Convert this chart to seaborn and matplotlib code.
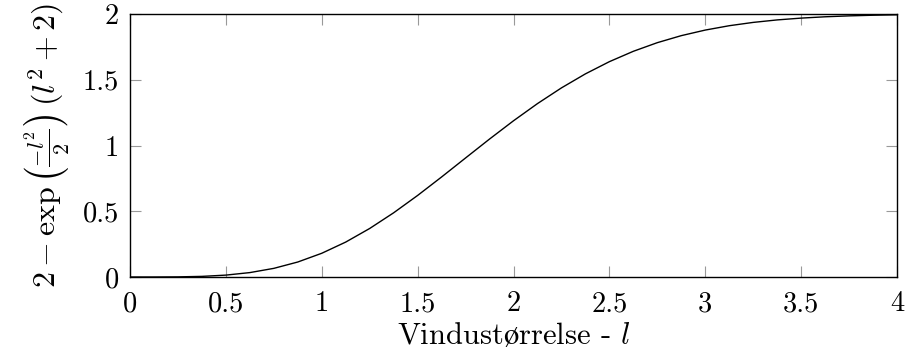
import matplotlib
matplotlib.use("Agg")
import matplotlib.pyplot as plt
import seaborn as sns
import pandas as pd

# Window size l and the curve value 2 - exp(-l^2/2)(l^2 + 2)
window_size = [0.0, 0.125, 0.25, 0.375, 0.5, 0.625, 0.75, 0.875,
               1.0, 1.125, 1.25, 1.375, 1.5, 1.625, 1.75, 1.875,
               2.0, 2.125, 2.25, 2.375, 2.5, 2.625, 2.75, 2.875,
               3.0, 3.125, 3.25, 3.375, 3.5, 3.625, 3.75, 3.875, 4.0]
curve_value = [0.0, 0.0001, 0.001, 0.0047, 0.0144, 0.0335, 0.0657, 0.114,
               0.1804, 0.2656, 0.369, 0.4883, 0.6202, 0.7607, 0.9052, 1.049,
               1.188, 1.3186, 1.4381, 1.5447, 1.6375, 1.7164, 1.782, 1.8354,
               1.8778, 1.9109, 1.9361, 1.955, 1.9688, 1.9788, 1.9858, 1.9907, 1.994]

x_ticks = [0, 0.5, 1, 1.5, 2, 2.5, 3, 3.5, 4]
x_tick_labels = ["0", "0.5", "1", "1.5", "2", "2.5", "3", "3.5", "4"]
y_ticks = [0, 0.5, 1, 1.5, 2]
y_tick_labels = ["0", "0.5", "1", "1.5", "2"]

sns.set_theme(style="white")
plt.rcParams["font.family"] = ["cmr10", "DejaVu Serif"]
plt.rcParams["mathtext.fontset"] = "cm"
plt.rcParams["axes.formatter.use_mathtext"] = True

df = pd.DataFrame({"l": window_size, "y": curve_value})

fig = plt.figure(figsize=(9.06, 3.6), dpi=100)
ax = fig.add_axes([130 / 906, 1 - 277 / 360, (897 - 130) / 906, (277 - 14) / 360])

sns.lineplot(data=df, x="l", y="y", ax=ax, color="black", linewidth=1.0)

ax.set_xlim(0, 4)
ax.set_ylim(0, 2)
ax.set_xticks(x_ticks)
ax.set_xticklabels(x_tick_labels)
ax.set_yticks(y_ticks)
ax.set_yticklabels(y_tick_labels)

for spine in ax.spines.values():
    spine.set_visible(True)
    spine.set_color("black")
    spine.set_linewidth(1.0)

ax.tick_params(axis="both", which="major", direction="in", length=8, width=0.8,
               color="#999999", top=True, right=True, bottom=True, left=True,
               labelsize=20.5, labelcolor="black")
ax.tick_params(axis="x", pad=10)
ax.tick_params(axis="y", pad=8)

ax.set_xlabel(r"Vindust$\mathrm{\o}$rrelse - $l$", fontsize=22, labelpad=3, color="black")
ax.set_ylabel(r"$2-\exp\left(\frac{-l^2}{2}\right)\,(l^2+2)$", fontsize=23,
              labelpad=8, color="black")

fig.savefig("out.png", dpi=100)
